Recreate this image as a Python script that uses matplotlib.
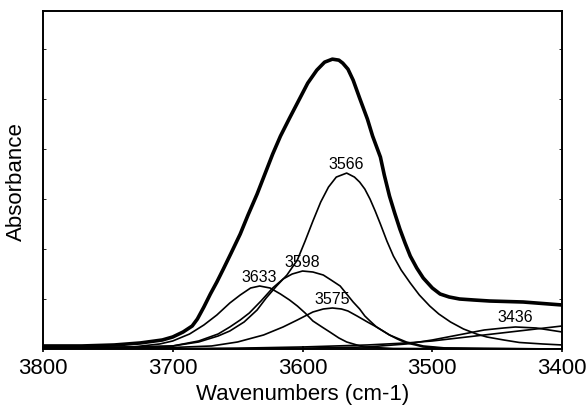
import matplotlib
matplotlib.use("Agg")
import matplotlib.pyplot as plt

plt.rcParams['font.family'] = ['Liberation Sans', 'DejaVu Sans']

# measured spectrum (thick line)
wn_total = [3800, 3770, 3745, 3725, 3708, 3700, 3692, 3685, 3681, 3676,
            3671, 3666, 3661, 3655, 3648, 3642, 3635, 3629, 3623, 3617,
            3610, 3602, 3596, 3589, 3583, 3577, 3572, 3569, 3565, 3561,
            3556, 3550, 3546, 3540, 3537, 3533, 3529, 3525, 3521, 3517,
            3512, 3507, 3500, 3494, 3487, 3479, 3468, 3456, 3443, 3430,
            3415, 3400]
abs_total = [0.003, 0.003, 0.004, 0.006, 0.009, 0.012, 0.017, 0.023, 0.030, 0.042,
             0.055, 0.067, 0.080, 0.096, 0.115, 0.134, 0.155, 0.175, 0.195, 0.213,
             0.231, 0.251, 0.266, 0.279, 0.287, 0.290, 0.289, 0.286, 0.280, 0.269,
             0.251, 0.230, 0.213, 0.192, 0.174, 0.153, 0.136, 0.120, 0.106, 0.093,
             0.081, 0.071, 0.061, 0.055, 0.052, 0.050, 0.049, 0.048, 0.0475, 0.047,
             0.0455, 0.044]

# fitted component bands
wn_3633 = [3800, 3760, 3731, 3710, 3700, 3687, 3676, 3666, 3656, 3648,
           3640, 3633, 3625, 3617, 3610, 3604, 3598, 3592, 3585, 3579,
           3572, 3566, 3553, 3530, 3400]
abs_3633 = [0.001, 0.0015, 0.002, 0.005, 0.008, 0.015, 0.024, 0.034, 0.046, 0.054,
            0.061, 0.063, 0.061, 0.055, 0.049, 0.043, 0.036, 0.028, 0.022, 0.017,
            0.011, 0.007, 0.002, 0.0005, 0.0]

wn_3598 = [3800, 3750, 3730, 3700, 3680, 3665, 3656, 3648, 3641, 3632,
           3623, 3615, 3608, 3600, 3592, 3584, 3578, 3571, 3566, 3561,
           3556, 3552, 3548, 3543, 3538, 3533, 3527, 3520, 3513, 3507,
           3495, 3470, 3400]
abs_3598 = [0.001, 0.0015, 0.002, 0.003, 0.008, 0.015, 0.022, 0.029, 0.036, 0.048,
            0.061, 0.070, 0.075, 0.078, 0.077, 0.074, 0.069, 0.063, 0.055, 0.047,
            0.040, 0.033, 0.028, 0.022, 0.018, 0.014, 0.010, 0.006, 0.004, 0.002,
            0.001, 0.0005, 0.0]

wn_3575 = [3800, 3730, 3700, 3670, 3650, 3630, 3615, 3604, 3592, 3584,
           3577, 3570, 3565, 3558, 3550, 3543, 3533, 3520, 3507, 3490,
           3460, 3400]
abs_3575 = [0.0005, 0.001, 0.0015, 0.003, 0.007, 0.014, 0.022, 0.029, 0.037, 0.040,
            0.041, 0.040, 0.038, 0.033, 0.027, 0.022, 0.014, 0.007, 0.003, 0.001,
            0.0005, 0.0]

wn_3566 = [3800, 3750, 3720, 3700, 3680, 3665, 3656, 3645, 3635, 3628,
           3620, 3612, 3604, 3598, 3592, 3586, 3580, 3574, 3566, 3560,
           3556, 3552, 3548, 3544, 3540, 3535, 3530, 3524, 3517, 3510,
           3502, 3495, 3486, 3476, 3466, 3458, 3445, 3433, 3415, 3400]
abs_3566 = [0.001, 0.0015, 0.002, 0.003, 0.007, 0.013, 0.018, 0.027, 0.039, 0.051,
            0.063, 0.074, 0.089, 0.108, 0.128, 0.147, 0.162, 0.172, 0.176, 0.172,
            0.167, 0.160, 0.150, 0.138, 0.125, 0.108, 0.093, 0.079, 0.066, 0.054,
            0.043, 0.035, 0.027, 0.020, 0.015, 0.012, 0.009, 0.0065, 0.005, 0.004]

wn_3436 = [3800, 3650, 3600, 3550, 3520, 3500, 3480, 3460, 3445, 3436,
           3420, 3400]
abs_3436 = [0.0, 0.0003, 0.0008, 0.002, 0.005, 0.009, 0.014, 0.019, 0.021, 0.022,
            0.021, 0.017]

# broad band below 3400 (unlabelled)
wn_low = [3800, 3700, 3650, 3600, 3550, 3520, 3500, 3480, 3460, 3440,
          3420, 3400]
abs_low = [0.0, 0.0003, 0.0008, 0.002, 0.004, 0.006, 0.008, 0.011, 0.014, 0.017,
           0.020, 0.023]

components = [
    ('3633', wn_3633, abs_3633),
    ('3598', wn_3598, abs_3598),
    ('3575', wn_3575, abs_3575),
    ('3566', wn_3566, abs_3566),
    ('3436', wn_3436, abs_3436),
    (None, wn_low, abs_low),
]


def plot_bands():
    fig = plt.figure(figsize=(5.88, 4.06), dpi=100)
    ax = fig.add_axes([0.073, 0.138, 0.883, 0.832])

    for label, wn, ab in components:
        ax.plot(wn, ab, color='k', lw=1.2)
        if label is not None:
            ipk = ab.index(max(ab))
            ax.text(wn[ipk], ab[ipk] + 0.010, label, fontsize=11.5,
                    ha='center', va='center')

    ax.plot(wn_total, abs_total, color='k', lw=2.6)

    ax.set_xlim(3800, 3400)
    ax.set_ylim(0, 0.338)
    ax.set_xticks([3800, 3700, 3600, 3500, 3400])
    ax.set_yticks([0.05, 0.1, 0.15, 0.2, 0.25, 0.3])
    ax.set_yticklabels([])
    ax.tick_params(axis='x', labelsize=16, direction='inout', length=5,
                   width=1.2, pad=3)
    ax.tick_params(axis='y', direction='in', length=2, width=0.6,
                   right=True)
    for sp in ax.spines.values():
        sp.set_linewidth(1.4)

    ax.set_xlabel('Wavenumbers (cm-1)', fontsize=16, labelpad=4)
    ax.set_ylabel('Absorbance', fontsize=16, labelpad=8)
    return fig


fig = plot_bands()
fig.savefig('out.png', dpi=100)
